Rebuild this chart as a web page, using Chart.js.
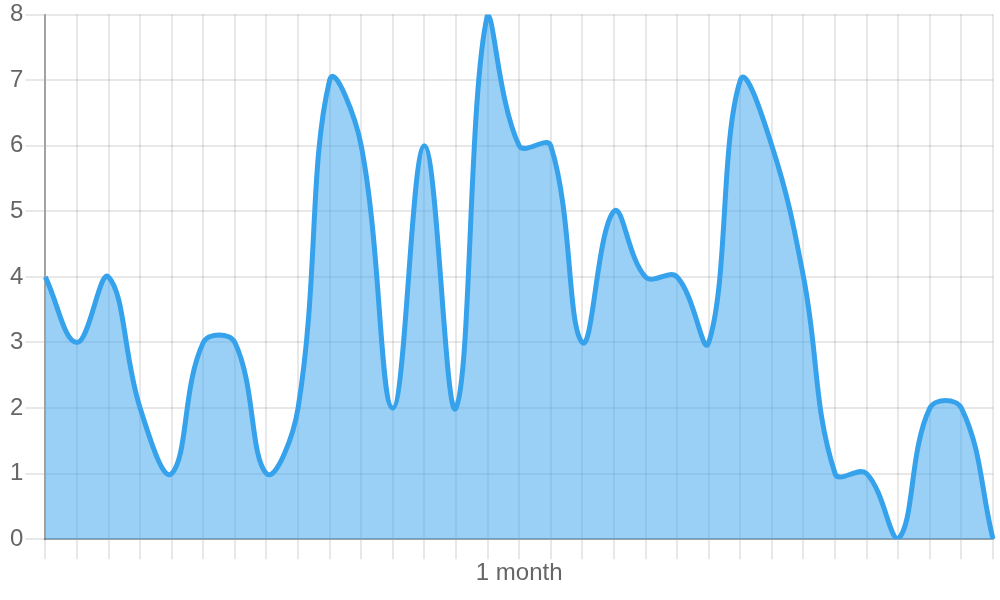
<!DOCTYPE html>
<html>
<head>
<meta charset="utf-8">
<script src="https://cdn.jsdelivr.net/npm/chart.js@4/dist/chart.umd.min.js"></script>
<style>
  html, body { margin: 0; padding: 0; background: #fff; }
  #wrap { width: 1000px; height: 600px; }
</style>
</head>
<body>
<div id="wrap"><canvas id="lineChart"></canvas></div>
<script>
// one point per day, labels left blank like the original
const days = [];
for (let i = 0; i < 31; i++) days.push("");
const counts = [4, 3, 4, 2, 1, 3, 3, 1, 2, 7, 6, 2, 6, 2, 8, 6, 6, 3, 5, 4, 4, 3, 7, 6, 4, 1, 1, 0, 2, 2, 0];
const yTicks = [0, 1, 2, 3, 4, 5, 6, 7, 8];
const axisTitle = "1 month";

Chart.defaults.font.family = "'Liberation Sans', Arial, sans-serif";
Chart.defaults.color = "#666";

const ctx = document.getElementById("lineChart").getContext("2d");
new Chart(ctx, {
  type: "line",
  data: {
    labels: days,
    datasets: [
      {
        data: counts,
        borderColor: "rgb(54, 162, 235)",
        backgroundColor: "rgba(54, 162, 235, 0.5)",
        borderWidth: 5,
        fill: true,
        tension: 0.4,
        pointRadius: 0,
      },
    ],
  },
  options: {
    responsive: true,
    maintainAspectRatio: false,
    animation: false,
    layout: { padding: { left: 8, right: 7, top: 0, bottom: 0 } },
    plugins: {
      legend: { display: false },
      tooltip: { enabled: false },
    },
    scales: {
      x: {
        grid: { color: "rgba(0,0,0,0.09)", lineWidth: 2, tickLength: 20 },
        border: { color: "rgba(0,0,0,0.3)", width: 2 },
        ticks: { display: false },
        title: { display: true, text: axisTitle, font: { size: 24 }, padding: { top: 0, bottom: 12 } },
      },
      y: {
        min: yTicks[0],
        max: yTicks[yTicks.length - 1],
        grid: { color: "rgba(0,0,0,0.09)", lineWidth: 2, tickLength: 20 },
        border: { color: "rgba(0,0,0,0.3)", width: 2 },
        afterBuildTicks: (axis) => {
          axis.ticks = yTicks.map((v) => ({ value: v }));
        },
        ticks: { font: { size: 24, lineHeight: 1.05 }, padding: 2 },
      },
    },
  },
});
</script>
</body>
</html>
